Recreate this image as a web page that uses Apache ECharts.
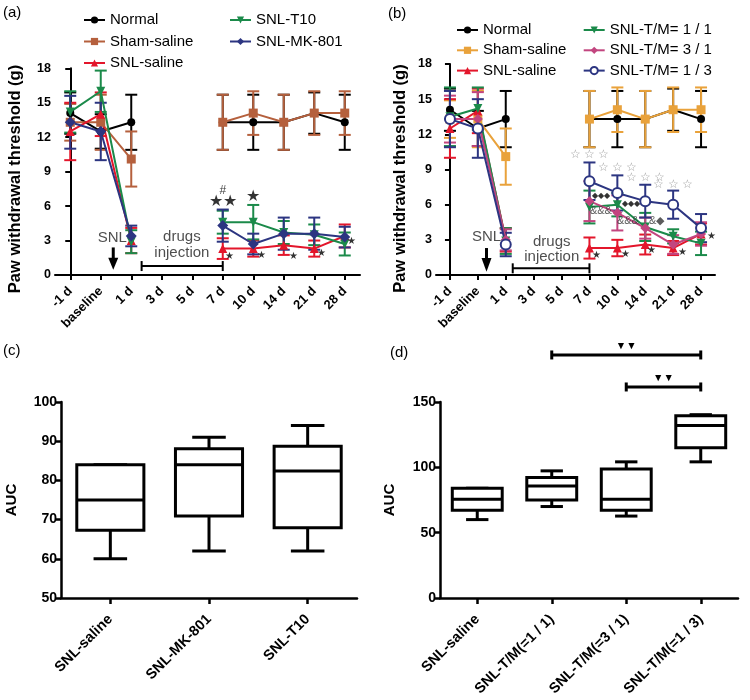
<!DOCTYPE html>
<html><head><meta charset="utf-8">
<script src="https://cdn.jsdelivr.net/npm/echarts@6/dist/echarts.min.js"></script>
<style>
body{margin:0;background:#fff;}
#wrap{position:relative;width:750px;height:700px;background:#fff;}
.p{position:absolute;}
</style></head><body>
<div id="wrap">
<div id="ca" class="p" style="left:0;top:0;width:375px;height:330px"></div>
<div id="cb" class="p" style="left:375px;top:0;width:375px;height:330px"></div>
<div id="cc" class="p" style="left:0;top:330px;width:375px;height:370px"></div>
<div id="cd" class="p" style="left:375px;top:330px;width:375px;height:370px"></div>
</div>
<script>
// ---------- DATA ----------
const days = ['-1 d','baseline','1 d','3 d','5 d','7 d','10 d','14 d','21 d','28 d'];
const yTicksAB = [0,3,6,9,12,15,18];

// panel (a)
const aNormal    = [14.1,12.5,13.3,null,null,13.3,13.3,13.3,14.1,13.3];
const aNormalErr = [1.8,1.5,2.4,null,null,2.4,2.4,2.4,1.8,2.4];
const aSham      = [13.3,13.3,10.1,null,null,13.3,14.1,13.3,14.1,14.1];
const aShamErr   = [1.6,2.4,2.4,null,null,2.4,1.9,2.4,1.9,1.9];
const aSaline    = [12.5,14.0,3.0,null,null,2.3,2.3,2.6,2.3,3.4];
const aSalineErr = [2.5,1.9,1.1,null,null,0.9,0.7,0.85,0.7,1.0];
const aT10       = [14.2,16.0,2.9,null,null,4.6,4.6,3.7,3.5,2.7];
const aT10Err    = [1.8,1.8,1.0,null,null,1.0,1.5,1.0,0.9,1.0];
const aMK        = [13.3,12.5,3.4,null,null,4.3,2.7,3.6,3.6,3.3];
const aMKErr     = [2.3,2.5,0.9,null,null,1.4,0.9,1.4,1.4,0.9];
const aHash      = [[5,7.34,'#']];
const aBigStars  = [[5,6.39,'★★'],[6,6.82,'★']];
const aSmallStars= [[5.21,1.65],[6.28,1.68],[7.31,1.6],[8.24,1.89],[9.23,2.9]];
const aTexts     = [[1.38,3.2,'SNL'],[3.66,3.3,'drugs'],[3.66,1.92,'injection']];
const aBracket   = [[2.34,5,0.78]];
const aArrow     = [[1.41,2.4,1.5,0.45]];

// panel (b)
const bNormal    = [14.1,12.5,13.3,null,null,13.3,13.3,13.3,14.1,13.3];
const bNormalErr = [1.8,1.5,2.4,null,null,2.4,2.4,2.4,1.8,2.4];
const bSham      = [13.3,13.3,10.1,null,null,13.3,14.1,13.3,14.1,14.1];
const bShamErr   = [1.6,2.4,2.4,null,null,2.4,1.9,2.4,1.9,1.9];
const bSaline    = [12.5,14.0,3.0,null,null,2.3,2.3,2.6,2.3,3.5];
const bSalineErr = [2.5,1.9,1.0,null,null,0.9,0.7,0.85,0.6,0.9];
const bTM11      = [13.5,14.2,2.9,null,null,5.8,6.0,4.1,3.3,2.7];
const bTM11Err   = [2.5,1.8,1.1,null,null,1.4,1.0,1.2,0.6,1.0];
const bTM31      = [13.3,13.3,3.0,null,null,6.3,5.3,4.0,2.6,3.5];
const bTM31Err   = [2.0,2.3,0.9,null,null,1.7,1.5,0.9,0.8,1.0];
const bTM13      = [13.3,12.5,2.6,null,null,8.0,7.0,6.3,6.0,4.0];
const bTM13Err   = [2.4,2.5,1.0,null,null,1.6,1.5,1.4,1.2,1.2];
const bGreyStars = [[5,10.26],[6,9.12],[7,8.28],[8,7.71]];
const bDiamonds  = [[5.41,6.74],[6.49,6.1]];
const bAmps      = [[5.41,5.47,'&&&'],[6.38,4.63,'&&&'],[7.41,4.63,'&◆']];
const bSmallStars= [[5.26,1.7],[6.31,1.79],[7.23,2.07],[8.33,1.93],[9.36,3.32]];
const bTexts     = [[1.31,3.27,'SNL'],[3.65,2.84,'drugs'],[3.65,1.56,'injection']];
const bBracket   = [[2.25,5,0.57]];
const bArrow     = [[1.31,2.3,1.45,0.28]];

// panel (c)  [min, Q1, median, Q3, max]
const cCats  = ['SNL-saline','SNL-MK-801','SNL-T10'];
const cBoxes = [[60,67.3,75,84,84],[62,70.9,84,88.1,91],[62,67.9,82.4,88.7,94]];

// panel (d)
const dCats  = ['SNL-saline','SNL-T/M(=1 / 1)','SNL-T/M(=3 / 1)','SNL-T/M(=1 / 3)'];
const dBoxes = [[60,67.1,75.5,84,84],[70,75,85.8,92.2,97.3],[62.7,67.1,75.5,98.8,104.2],[104.2,115,132,139.5,140.3]];
const dSig   = [[1,3,186,'▼▼'],[2,3,161.5,'▼▼']];

// ---------- HELPERS ----------
const FF = 'Liberation Sans, Arial, sans-serif';

function errData(vals, errs){
  const out = [];
  vals.forEach((v,i)=>{ if(v!==null) out.push([i, v, errs[i]]); });
  return out;
}
function errRender(capHalf, lw){
  return function(params, api){
    const x = api.value(0), v = api.value(1), e = api.value(2);
    const t = api.coord([x, v+e]), b = api.coord([x, v-e]);
    const st = {stroke: api.visual('color'), lineWidth: lw};
    return {type:'group', children:[
      {type:'line', shape:{x1:t[0],y1:t[1],x2:b[0],y2:b[1]}, style:st},
      {type:'line', shape:{x1:t[0]-capHalf,y1:t[1],x2:t[0]+capHalf,y2:t[1]}, style:st},
      {type:'line', shape:{x1:b[0]-capHalf,y1:b[1],x2:b[0]+capHalf,y2:b[1]}, style:st}
    ]};
  };
}
function lineGroup(name, vals, errs, color, symbol, size, extra){
  const s = Object.assign({
    type:'line', name:name, data:vals, xAxisIndex:0, yAxisIndex:0,
    symbol:symbol, symbolSize:size, connectNulls:false,
    lineStyle:{width:2, color:color}, itemStyle:{color:color, borderColor:color, borderWidth:0},
    emphasis:{disabled:true}, silent:true
  }, extra||{});
  return [
    {type:'custom', name:name+'_err', xAxisIndex:0, yAxisIndex:0, data:errData(vals, errs),
     encode:{x:0,y:1}, itemStyle:{color:color}, renderItem:errRender(6,2), silent:true},
    s
  ];
}
function textSeries(arr, defText, fontSize, color, extra){
  return Object.assign({
    type:'scatter', xAxisIndex:1, yAxisIndex:0, symbolSize:1, silent:true,
    itemStyle:{color:'rgba(0,0,0,0)'}, z:10,
    data: arr.map(a=>({value:[a[0],a[1]], label:{formatter: a[2]!==undefined ? a[2] : defText}})),
    label:{show:true, position:'inside', fontSize:fontSize, color:color, fontFamily:FF}
  }, extra||{});
}
function bracketSeries(arr){
  return {type:'custom', xAxisIndex:1, yAxisIndex:0, data:arr, encode:{x:[0,1], y:2}, silent:true,
    renderItem:function(p, api){
      const a = api.coord([api.value(0), api.value(2)]), b = api.coord([api.value(1), api.value(2)]);
      const st = {stroke:'#000', lineWidth:2};
      return {type:'group', children:[
        {type:'line', shape:{x1:a[0],y1:a[1],x2:b[0],y2:b[1]}, style:st},
        {type:'line', shape:{x1:a[0],y1:a[1]-5,x2:a[0],y2:a[1]+5}, style:st},
        {type:'line', shape:{x1:b[0],y1:b[1]-5,x2:b[0],y2:b[1]+5}, style:st}
      ]};
    }};
}
function arrowSeries(arr){
  return {type:'custom', xAxisIndex:1, yAxisIndex:0, data:arr, encode:{x:0, y:[1,3]}, silent:true,
    renderItem:function(p, api){
      const x = api.value(0);
      const t = api.coord([x, api.value(1)]), h = api.coord([x, api.value(2)]), tip = api.coord([x, api.value(3)]);
      return {type:'group', children:[
        {type:'line', shape:{x1:t[0],y1:t[1],x2:h[0],y2:h[1]+1}, style:{stroke:'#000', lineWidth:3}},
        {type:'polygon', shape:{points:[[h[0]-5,h[1]],[h[0]+5,h[1]],[tip[0],tip[1]]]}, style:{fill:'#000'}}
      ]};
    }};
}
function boxRender(boxFrac, capFrac){
  return function(params, api){
    const i = api.value(0);
    const band = api.size([1,0])[0];
    const hw = band*boxFrac/2, cw = band*capFrac/2;
    const pMin = api.coord([i, api.value(1)]), pQ1 = api.coord([i, api.value(2)]),
          pMed = api.coord([i, api.value(3)]), pQ3 = api.coord([i, api.value(4)]),
          pMax = api.coord([i, api.value(5)]);
    const x = pMed[0];
    const st = {stroke:'#000', lineWidth:3, fill:null};
    return {type:'group', children:[
      {type:'line', shape:{x1:x,y1:pMin[1],x2:x,y2:pQ1[1]}, style:st},
      {type:'line', shape:{x1:x,y1:pQ3[1],x2:x,y2:pMax[1]}, style:st},
      {type:'line', shape:{x1:x-cw,y1:pMin[1],x2:x+cw,y2:pMin[1]}, style:st},
      {type:'line', shape:{x1:x-cw,y1:pMax[1],x2:x+cw,y2:pMax[1]}, style:st},
      {type:'rect', shape:{x:x-hw, y:pQ3[1], width:2*hw, height:pQ1[1]-pQ3[1]}, style:{stroke:'#000', lineWidth:3, fill:'#fff'}},
      {type:'line', shape:{x1:x-hw,y1:pMed[1],x2:x+hw,y2:pMed[1]}, style:st}
    ]};
  };
}
function boxData(boxes){ return boxes.map((b,i)=>[i].concat(b)); }

function yAxisAB(){
  return {type:'value', min:yTicksAB[0], max:yTicksAB[yTicksAB.length-1], interval:yTicksAB[1]-yTicksAB[0],
    axisLine:{show:true, lineStyle:{color:'#000', width:2}},
    axisTick:{show:true, length:5, lineStyle:{color:'#000', width:2}},
    axisLabel:{color:'#000', fontWeight:'bold', fontSize:12.5, fontFamily:FF, margin:4},
    splitLine:{show:false}};
}
function xAxesAB(){
  return [
    {type:'category', data:days, boundaryGap:true,
     axisLine:{show:true, lineStyle:{color:'#000', width:2}},
     axisTick:{show:true, alignWithLabel:true, length:5, lineStyle:{color:'#000', width:2}},
     axisLabel:{interval:0, rotate:45, color:'#000', fontWeight:'bold', fontSize:13, fontFamily:FF, margin:14}},
    {type:'value', min:-0.5, max:9.5, show:false}
  ];
}
function legendCfg(names, left, top, gap){
  return {data:names, orient:'vertical', left:left, top:top, itemWidth:21, itemHeight:9, itemGap:gap,
    selectedMode:false,
    textStyle:{fontSize:15, color:'#000', fontFamily:FF}};
}
function gtext(x, y, text, size, weight, rot){
  return {type:'text', x:x, y:y, rotation:rot||0, silent:true,
    style:{text:text, fontSize:size, fontWeight:weight||'normal', fontFamily:FF, fill:'#000',
      align: rot ? 'center' : 'left', verticalAlign:'middle'}};
}
const gridBase = {containLabel:false, outerBoundsMode:'none'};

// ---------- CHART (a) ----------
const chA = echarts.init(document.getElementById('ca'), null, {renderer:'canvas'});
chA.setOption({
  animation:false, textStyle:{fontFamily:FF},
  grid:Object.assign({left:55, top:68.3, width:305, height:206.7}, gridBase),
  xAxis:xAxesAB(), yAxis:yAxisAB(),
  legend:[legendCfg(['Normal','Sham-saline','SNL-saline'],78,7.5,6.5),
          legendCfg(['SNL-T10','SNL-MK-801'],224,7.5,6.5)],
  graphic:[gtext(3,12.5,'(a)',15), gtext(15,179,'Paw withdrawal threshold (g)',16.5,'bold',Math.PI/2)],
  series:[].concat(
    lineGroup('Normal', aNormal, aNormalErr, '#000000', 'circle', 8),
    lineGroup('Sham-saline', aSham, aShamErr, '#b5603d', 'rect', 9),
    lineGroup('SNL-saline', aSaline, aSalineErr, '#e3162b', 'triangle', 9),
    lineGroup('SNL-T10', aT10, aT10Err, '#1b8a4a', 'triangle', 9, {symbolRotate:180}),
    lineGroup('SNL-MK-801', aMK, aMKErr, '#2c3581', 'diamond', 11),
    [textSeries(aHash, '#', 12, '#000'),
     textSeries(aBigStars, '★', 16, '#000'),
     textSeries(aSmallStars, '★', 10, '#000'),
     textSeries(aTexts, '', 15, '#222'),
     bracketSeries(aBracket), arrowSeries(aArrow)]
  )
});

// ---------- CHART (b) ----------
const chB = echarts.init(document.getElementById('cb'), null, {renderer:'canvas'});
chB.setOption({
  animation:false, textStyle:{fontFamily:FF},
  grid:Object.assign({left:61, top:64, width:279, height:211}, gridBase),
  xAxis:xAxesAB(), yAxis:yAxisAB(),
  legend:[legendCfg(['Normal','Sham-saline','SNL-saline'],76,17.5,5.3),
          legendCfg(['SNL-T/M= 1 / 1','SNL-T/M= 3 / 1','SNL-T/M= 1 / 3'],202.7,17.5,5.3)],
  graphic:[gtext(13,13.5,'(b)',15), gtext(25,178.5,'Paw withdrawal threshold (g)',16.5,'bold',Math.PI/2)],
  series:[].concat(
    lineGroup('Normal', bNormal, bNormalErr, '#000000', 'circle', 8),
    lineGroup('Sham-saline', bSham, bShamErr, '#e9a23b', 'rect', 9),
    lineGroup('SNL-saline', bSaline, bSalineErr, '#e3162b', 'triangle', 9),
    lineGroup('SNL-T/M= 1 / 1', bTM11, bTM11Err, '#1b8a4a', 'triangle', 9, {symbolRotate:180}),
    lineGroup('SNL-T/M= 3 / 1', bTM31, bTM31Err, '#c2457f', 'diamond', 10),
    lineGroup('SNL-T/M= 1 / 3', bTM13, bTM13Err, '#2c3581', 'emptyCircle', 10,
      {itemStyle:{color:'#2c3581', borderColor:'#2c3581', borderWidth:2}}),
    [textSeries(bGreyStars, '☆ ☆ ☆', 11.5, '#8a8a8a'),
     textSeries(bDiamonds, '◆◆◆', 8, '#000'),
     textSeries(bAmps, '&&&', 11, '#333'),
     textSeries(bSmallStars, '★', 10, '#000'),
     textSeries(bTexts, '', 15, '#222'),
     bracketSeries(bBracket), arrowSeries(bArrow)]
  )
});

// ---------- CHART (c) ----------
function boxAxes(cats, min, max, interval){
  return {
    xAxis:{type:'category', data:cats, boundaryGap:true,
      axisLine:{show:true, lineStyle:{color:'#000', width:2.5}},
      axisTick:{show:true, alignWithLabel:true, length:6, lineStyle:{color:'#000', width:2.5}},
      axisLabel:{interval:0, rotate:45, color:'#000', fontWeight:'bold', fontSize:14.5, fontFamily:FF, margin:19}},
    yAxis:{type:'value', min:min, max:max, interval:interval,
      axisLine:{show:true, lineStyle:{color:'#000', width:2.5}},
      axisTick:{show:true, length:6, lineStyle:{color:'#000', width:2.5}},
      axisLabel:{color:'#000', fontWeight:'bold', fontSize:14, fontFamily:FF, margin:4},
      splitLine:{show:false}}
  };
}
const chC = echarts.init(document.getElementById('cc'), null, {renderer:'canvas'});
chC.setOption(Object.assign({
  animation:false, textStyle:{fontFamily:FF},
  grid:Object.assign({left:61, top:72, width:296, height:196}, gridBase),
  graphic:[gtext(3,20.5,'(c)',15), gtext(12,170,'AUC',15,'bold',Math.PI/2)],
  series:[{type:'custom', data:boxData(cBoxes), encode:{x:0, y:[1,5]}, renderItem:boxRender(0.68,0.34), silent:true}]
}, boxAxes(cCats, 50, 100, 10)));

// ---------- CHART (d) ----------
const chD = echarts.init(document.getElementById('cd'), null, {renderer:'canvas'});
chD.setOption(Object.assign({
  animation:false, textStyle:{fontFamily:FF},
  grid:Object.assign({left:65, top:72, width:298, height:196}, gridBase),
  graphic:[gtext(15,22.5,'(d)',15), gtext(15,170,'AUC',15,'bold',Math.PI/2)],
  series:[
    {type:'custom', data:boxData(dBoxes), encode:{x:0, y:[1,5]}, renderItem:boxRender(0.67,0.3), silent:true},
    {type:'custom', data:dSig, encode:{x:[0,1], y:2}, clip:false, silent:true,
     renderItem:function(p, api){
       const a = api.coord([api.value(0), api.value(2)]), b = api.coord([api.value(1), api.value(2)]);
       const st = {stroke:'#000', lineWidth:3};
       return {type:'group', children:[
         {type:'line', shape:{x1:a[0],y1:a[1],x2:b[0],y2:b[1]}, style:st},
         {type:'line', shape:{x1:a[0],y1:a[1]-4.5,x2:a[0],y2:a[1]+4.5}, style:st},
         {type:'line', shape:{x1:b[0],y1:b[1]-4.5,x2:b[0],y2:b[1]+4.5}, style:st},
         {type:'text', x:(a[0]+b[0])/2, y:a[1]-9, style:{text:dSig[p.dataIndex][3], fontSize:10.5, fill:'#000', align:'center', verticalAlign:'middle', fontFamily:FF}}
       ]};
     }}
  ]
}, boxAxes(dCats, 0, 150, 50)));
</script>
</body></html>
